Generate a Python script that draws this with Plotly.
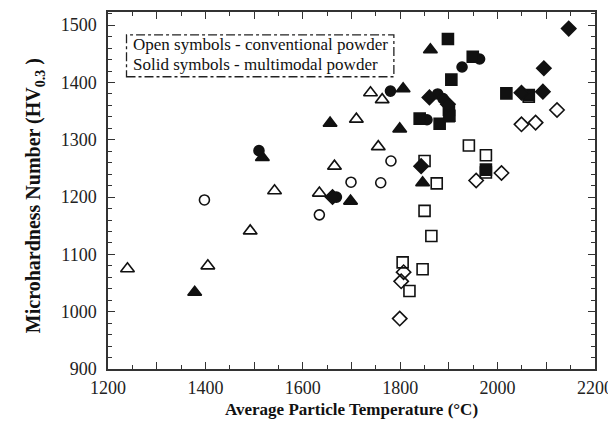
import plotly.graph_objects as go

# Open symbols - conventional powder
open_tri_x = [1240, 1405, 1492, 1542, 1634, 1665, 1710, 1739, 1763, 1755]
open_tri_y = [1075, 1080, 1141, 1211, 1207, 1254, 1336, 1382, 1370, 1288]
open_circ_x = [1398, 1634, 1699, 1760, 1781]
open_circ_y = [1195, 1169, 1226, 1225, 1263]
open_sq_x = [1941, 1976, 1850, 1875, 1850, 1864, 1805, 1846, 1819, 2064, 1976]
open_sq_y = [1290, 1273, 1263, 1224, 1176, 1132, 1086, 1074, 1036, 1375, 1243]
open_dia_x = [2122, 2049, 2078, 2008, 1956, 1807, 1802, 1799]
open_dia_y = [1352, 1327, 1330, 1242, 1229, 1069, 1053, 988]

# Solid symbols - multimodal powder
solid_tri_x = [1378, 1517, 1656, 1698, 1862, 1806, 1799, 1846, 1898]
solid_tri_y = [1034, 1269, 1329, 1193, 1457, 1389, 1319, 1225, 1337]
solid_circ_x = [1510, 1669, 1780, 1927, 1963, 1877, 1855, 1888]
solid_circ_y = [1281, 1200, 1385, 1427, 1441, 1380, 1335, 1372]
solid_dia_x = [2146, 2095, 2093, 2049, 1843, 1860, 1898, 1661]
solid_dia_y = [1494, 1425, 1384, 1382, 1254, 1374, 1362, 1200]
solid_sq_x = [1898, 1949, 1905, 2018, 2064, 1840, 1881, 1976, 1900, 1901]
solid_sq_y = [1476, 1445, 1405, 1381, 1378, 1337, 1328, 1248, 1352, 1342]

legend_lines = ["Open symbols - conventional powder", "Solid symbols - multimodal powder"]

fig = go.Figure()
ink = "#111111"

def add(xs, ys, symbol, size):
    fig.add_trace(go.Scatter(x=xs, y=ys, mode="markers", showlegend=False,
                             marker=dict(symbol=symbol, size=size, color=ink,
                                         line=dict(color=ink, width=1.6))))

add(open_tri_x, open_tri_y, "triangle-up-open", 12)
add(open_circ_x, open_circ_y, "circle-open", 10)
add(open_sq_x, open_sq_y, "square-open", 11)
add(open_dia_x, open_dia_y, "diamond-open", 11)
add(solid_tri_x, solid_tri_y, "triangle-up", 12)
add(solid_circ_x, solid_circ_y, "circle", 10)
add(solid_sq_x, solid_sq_y, "square", 11)
add(solid_dia_x, solid_dia_y, "diamond", 11)

serif = "Liberation Serif, Times New Roman, serif"
axis_common = dict(showgrid=False, zeroline=False, showline=True, linecolor="#333",
                   linewidth=1.5, mirror="allticks", ticks="inside", ticklen=7,
                   tickwidth=1.3, tickcolor="#333",
                   tickfont=dict(family=serif, size=18, color="#222"))

fig.update_xaxes(range=[1200, 2200], tick0=1200, dtick=100, ticklabelstep=2,
                 ticklabelstandoff=2, ticklabeloverflow="allow",
                 minor=dict(dtick=50, ticks="inside", ticklen=4, tickcolor="#333", tickwidth=1.2),
                 **axis_common)
fig.update_yaxes(range=[900, 1523], tick0=900, dtick=100, ticklabelstandoff=6,
                 minor=dict(dtick=20, ticks="inside", ticklen=4, tickcolor="#333", tickwidth=1.2),
                 **axis_common)

# legend box (dash-dot border)
fig.add_shape(type="rect", xref="x", yref="y", x0=1238, x1=1787, y0=1410, y1=1483,
              line=dict(color="#222", width=1.3, dash="dashdot"), fillcolor="white", layer="below")
fig.add_annotation(x=1248, y=1466, xref="x", yref="y", text=legend_lines[0], showarrow=False,
                   xanchor="left", font=dict(family=serif, size=17, color="#111"))
fig.add_annotation(x=1248, y=1431, xref="x", yref="y", text=legend_lines[1], showarrow=False,
                   xanchor="left", font=dict(family=serif, size=17, color="#111"))

# axis titles
fig.add_annotation(x=0.499, y=-0.114, xref="paper", yref="paper", yanchor="middle",
                   text="Average Particle Temperature (°C)", showarrow=False,
                   font=dict(family=serif, size=17, color="#111", weight="bold"))
fig.add_annotation(x=-0.179, y=0.485, xref="paper", yref="paper", textangle=-90,
                   text="Microhardness Number (HV<sub>0.3</sub> )", showarrow=False,
                   font=dict(family=serif, size=20, color="#111", weight="bold"))

fig.update_layout(width=616, height=416, margin=dict(l=100, r=29, t=2, b=55),
                  plot_bgcolor="white", paper_bgcolor="white")

fig.write_html("out.html")
